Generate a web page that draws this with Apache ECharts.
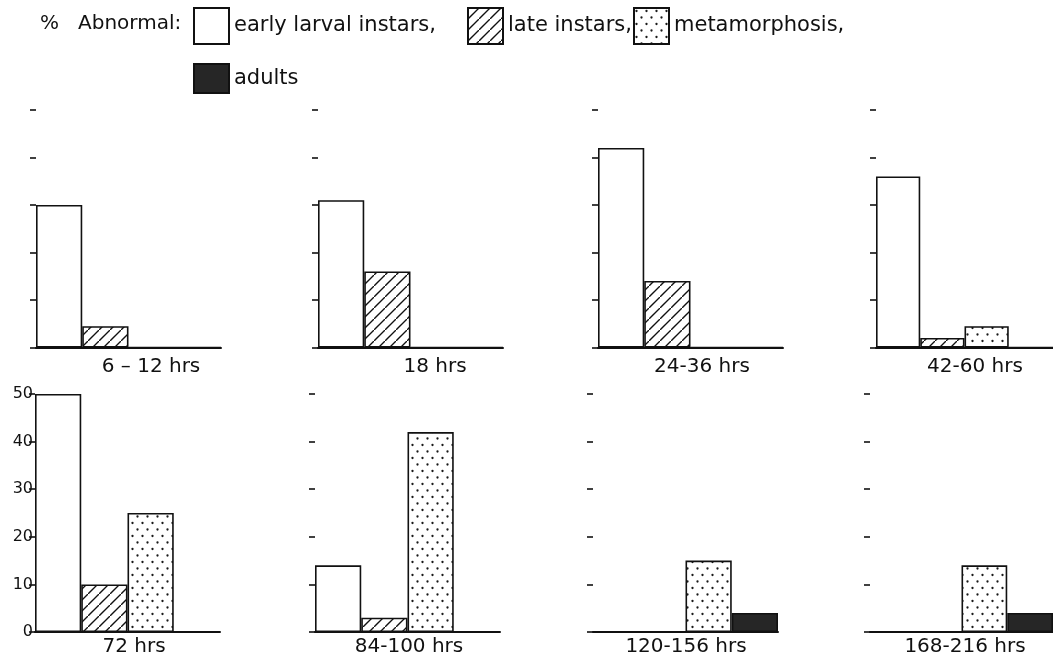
<!DOCTYPE html>
<html><head><meta charset="utf-8">
<script src="https://cdn.jsdelivr.net/npm/echarts@6/dist/echarts.min.js"></script>
<style>html,body{margin:0;padding:0;background:#fff}#c{width:1053px;height:665px}</style>
</head><body><div id="c"></div>
<script>
// ---- data ----
const panelLabels = ['6 – 12 hrs', '18 hrs', '24-36 hrs', '42-60 hrs', '72 hrs', '84-100 hrs', '120-156 hrs', '168-216 hrs'];
const stageNames = ['early larval instars', 'late instars', 'metamorphosis', 'adults'];
const earlyLarval = [30, 31, 42, 36, 50, 14, 0, 0];
const lateInstars = [4.5, 16, 14, 2, 10, 3, 0, 0];
const metamorphosis = [0, 0, 0, 4.5, 25, 42, 15, 14];
const adults = [0, 0, 0, 0, 0, 0, 4, 4];
const yTickValues = [0, 10, 20, 30, 40, 50];
const stageValues = [earlyLarval, lateInstars, metamorphosis, adults];

// ---- styles / layout ----
const FONT = 'DejaVu Sans';
const INK = '#111';
function makeHatch() {
  const n = 11;
  const c = document.createElement('canvas'); c.width = n; c.height = n;
  const g = c.getContext('2d');
  g.fillStyle = '#fff'; g.fillRect(0, 0, n, n);
  g.strokeStyle = INK; g.lineWidth = 1.4; g.beginPath();
  g.moveTo(-2, n + 2); g.lineTo(n + 2, -2);
  g.moveTo(-n - 2, 2); g.lineTo(2, -n - 2);
  g.moveTo(n - 2, 2 * n + 2); g.lineTo(2 * n + 2, n - 2);
  g.stroke();
  return c;
}
function makeDots() {
  const c = document.createElement('canvas'); c.width = 10; c.height = 13;
  const g = c.getContext('2d');
  g.fillStyle = '#fff'; g.fillRect(0, 0, 10, 13);
  g.fillStyle = '#1a1a1a';
  [[2.5, 3], [7.5, 9.5]].forEach(([x, y]) => { g.beginPath(); g.arc(x, y, 1.15, 0, Math.PI * 2); g.fill(); });
  return c;
}
const stageStyles = [
  { color: '#fff', borderColor: INK, borderWidth: 1.6 },
  { color: { image: makeHatch(), repeat: 'repeat' }, borderColor: INK, borderWidth: 1.6 },
  { color: { image: makeDots(), repeat: 'repeat' }, borderColor: INK, borderWidth: 1.6 },
  { color: '#262626', borderColor: INK, borderWidth: 1.6 }
];
const gridLefts = [36, 318, 598, 876, 35, 315, 593, 870];
const gridTops = [110, 110, 110, 110, 394, 394, 394, 394];
const gridHeights = [237.5, 237.5, 237.5, 237.5, 238, 238, 238, 238];
const gridWidth = 185;
const labelPos = [[151, 367], [435, 367], [702, 367], [975, 367], [134, 647], [409, 647], [686, 647], [965, 647]];
const labelledAxis = 4;

const grids = [], xAxes = [], yAxes = [], series = [], graphics = [];
panelLabels.forEach((lab, p) => {
  grids.push({ left: gridLefts[p], top: gridTops[p], width: gridWidth, height: gridHeights[p] });
  xAxes.push({
    gridIndex: p, type: 'category', data: [''],
    axisLine: { show: true, lineStyle: { color: INK, width: 2 } },
    axisTick: { show: false }, axisLabel: { show: false }, splitLine: { show: false }
  });
  yAxes.push({
    gridIndex: p, type: 'value',
    min: yTickValues[0], max: yTickValues[yTickValues.length - 1],
    interval: yTickValues[1] - yTickValues[0],
    axisLine: { show: false },
    axisTick: { show: true, length: 6, lineStyle: { color: INK, width: 1.6 } },
    axisLabel: { show: p === labelledAxis, color: INK, fontFamily: FONT, fontSize: 16, margin: 2 },
    splitLine: { show: false }
  });
  stageNames.forEach((name, s) => {
    series.push({
      type: 'bar', name: name, xAxisIndex: p, yAxisIndex: p,
      data: [stageValues[s][p]],
      barGap: '0%', barCategoryGap: '0%',
      itemStyle: stageStyles[s],
      emphasis: { disabled: true },
      silent: true
    });
  });
  graphics.push({
    type: 'text', x: labelPos[p][0], y: labelPos[p][1],
    style: { text: lab, fill: INK, font: '20px "' + FONT + '"', textAlign: 'center', textVerticalAlign: 'middle' }
  });
});
graphics.push({ type: 'text', x: 40, y: 24, style: { text: '%', fill: INK, font: '20px "' + FONT + '"', textVerticalAlign: 'middle' } });
graphics.push({ type: 'text', x: 78, y: 24, style: { text: 'Abnormal:', fill: INK, font: '20px "' + FONT + '"', textVerticalAlign: 'middle' } });

const legendLefts = [193, 467, 633, 193];
const legendTops = [7, 7, 7, 63];
const legendHeights = [36, 36, 36, 29];
const legends = stageNames.map((name, i) => ({
  data: [name], left: legendLefts[i], top: legendTops[i], padding: 0,
  itemWidth: 35, itemHeight: legendHeights[i], icon: 'rect', selectedMode: false,
  formatter: n => (n === 'adults' ? n : n + ','),
  textStyle: { color: INK, fontFamily: FONT, fontSize: 21 }
}));

const chart = echarts.init(document.getElementById('c'), null, { renderer: 'canvas' });
chart.setOption({
  backgroundColor: '#fff', animation: false,
  grid: grids, xAxis: xAxes, yAxis: yAxes, series: series,
  legend: legends, graphic: graphics, tooltip: { show: false }
});
</script></body></html>
